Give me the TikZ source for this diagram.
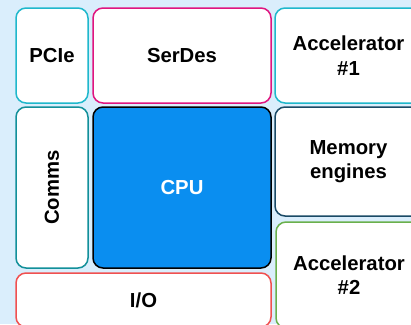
\documentclass[tikz,border=0pt]{standalone}
\usepackage{fontspec}
\setmainfont{Liberation Sans}
\definecolor{bgblue}{HTML}{DAEEFC}
\definecolor{pcicol}{HTML}{1FB8CC}
\definecolor{sercol}{HTML}{E0157F}
\definecolor{comcol}{HTML}{12909A}
\definecolor{cpufill}{HTML}{0A8EF0}
\definecolor{memcol}{HTML}{1A4A66}
\definecolor{acccol}{HTML}{6AB04C}
\definecolor{iocol}{HTML}{F05050}
\tikzset{
  blk/.style={draw, fill=white, rounded corners=10pt, line width=1.5pt, inner sep=0pt,
    align=center, font=\fontsize{20.3}{24.4}\selectfont\bfseries},
}
\begin{document}
\begin{tikzpicture}[x=1pt,y=-1pt]
\useasboundingbox (0,0) rectangle (411,324);
\fill[bgblue] (0,0) rectangle (411,324);
\clip (0,0) rectangle (411,324);
\node[blk, draw=pcicol, minimum width=72pt, minimum height=95pt] (pcie) at (52,55.5) {PCIe};
\node[blk, draw=sercol, minimum width=178pt, minimum height=95pt] (serdes) at (182,55.5) {SerDes};
\node[blk, draw=pcicol, minimum width=147pt, minimum height=95pt] (acc1) at (348.5,55.5) {Accelerator\\\#1};
\node[blk, draw=comcol, minimum width=161pt, minimum height=72pt, rotate=90] (comms) at (52,187.5) {Comms};
\node[blk, draw=black, fill=cpufill, text=white, minimum width=178pt, minimum height=161pt] (cpu) at (182,187.5) {CPU};
\node[blk, draw=memcol, minimum width=147pt, minimum height=109pt] (mem) at (348.5,161.5) {Memory\\engines};
\node[blk, draw=acccol, minimum width=146pt, minimum height=106pt] (acc2) at (349,275) {Accelerator\\\#2};
\node[blk, draw=iocol, minimum width=255pt, minimum height=54pt] (io) at (143.5,300) {I/O};
\end{tikzpicture}
\end{document}
